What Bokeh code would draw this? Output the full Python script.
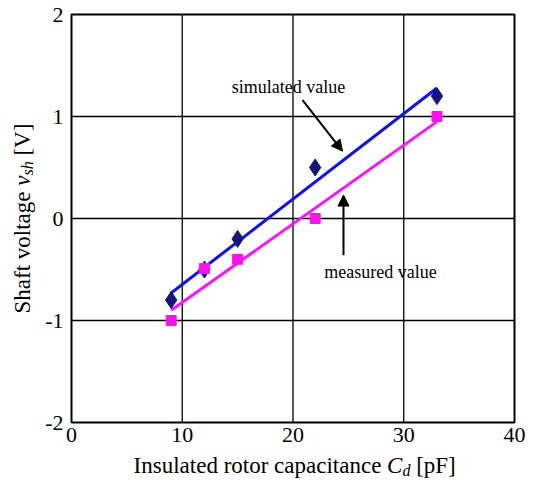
import math
from bokeh.plotting import figure
from bokeh.models import Label, Arrow, NormalHead, FixedTicker, Range1d, PrintfTickFormatter
from bokeh.embed import file_html
from bokeh.resources import INLINE

# ---- data ----
x_ticks = [0, 10, 20, 30, 40]
y_ticks = [-2, -1, 0, 1, 2]
x_lim = (0, 40)
y_lim = (-2, 2)

sim_x = [9, 12, 15, 22, 33]
sim_y = [-0.8, -0.5, -0.2, 0.5, 1.2]

meas_x = [9, 12, 15, 22, 33]
meas_y = [-1.0, -0.49, -0.4, 0.0, 1.0]

fit_x = [9, 33]
sim_fit = [-0.73, 1.28]
meas_fit = [-0.9, 0.95]

FONT = "Liberation Serif"

# frame covers the whole canvas; the chart box is placed inside it
W, H = 527, 481
BOX_L, BOX_R, BOX_T, BOX_B = 71, 514, 14, 422
sx = (BOX_R - BOX_L) / (x_lim[1] - x_lim[0])
sy = (BOX_B - BOX_T) / (y_lim[1] - y_lim[0])
xr = Range1d(x_lim[0] - BOX_L / sx, x_lim[1] + (W - BOX_R) / sx)
yr = Range1d(y_lim[0] - (H - BOX_B) / sy, y_lim[1] + BOX_T / sy)

p = figure(width=W, height=H, output_backend="svg", toolbar_location=None,
           x_range=xr, y_range=yr, min_border=0)
p.background_fill_color = "white"
p.border_fill_color = "white"
p.outline_line_color = None
p.xgrid.visible = False
p.ygrid.visible = False

for ax in (p.xaxis[0], p.yaxis[0]):
    ax.axis_line_color = None
    ax.major_tick_out = 0
    ax.major_tick_in = 0
    ax.minor_tick_out = 0
    ax.minor_tick_in = 0
    ax.major_label_text_font = FONT
    ax.major_label_text_font_size = "22px"
    ax.major_label_text_color = "black"
    ax.formatter = PrintfTickFormatter(format="%d")
p.xaxis[0].ticker = FixedTicker(ticks=x_ticks)
p.yaxis[0].ticker = FixedTicker(ticks=y_ticks)
p.xaxis[0].fixed_location = y_lim[0]
p.yaxis[0].fixed_location = x_lim[0]
p.xaxis[0].major_label_standoff = 5
p.yaxis[0].major_label_standoff = 8

# grid lines inside the box
gx = [t for t in x_ticks if x_lim[0] < t < x_lim[1]]
gy = [t for t in y_ticks if y_lim[0] < t < y_lim[1]]
p.segment(x0=gx, y0=[y_lim[0]] * len(gx), x1=gx, y1=[y_lim[1]] * len(gx),
          line_color="black", line_width=1.3)
p.segment(x0=[x_lim[0]] * len(gy), y0=gy, x1=[x_lim[1]] * len(gy), y1=gy,
          line_color="black", line_width=1.3)
p.quad(left=[x_lim[0]], right=[x_lim[1]], bottom=[y_lim[0]], top=[y_lim[1]],
       fill_color=None, line_color="black", line_width=2)

# fit lines
p.line(fit_x, sim_fit, line_color="#1010ee", line_width=3)
p.line(fit_x, meas_fit, line_color="#ff11ff", line_width=3)

# markers
p.scatter(sim_x, sim_y, marker="diamond", size=17, fill_color="#15157a", line_color="#15157a")
p.scatter(meas_x, meas_y, marker="square", size=10, fill_color="#ff11ee", line_color="#ff11ee")

# annotations
p.add_layout(Label(x=19.6, y=1.29, text="simulated value", text_font=FONT, text_font_size="18px",
                   text_align="center", text_baseline="middle", text_color="black"))
p.add_layout(Label(x=27.9, y=-0.52, text="measured value", text_font=FONT, text_font_size="18px",
                   text_align="center", text_baseline="middle", text_color="black"))
p.add_layout(Arrow(x_start=20.86, y_start=1.16, x_end=24.47, y_end=0.66, line_width=2, line_color="black",
                   end=NormalHead(size=11, fill_color="black", line_color="black")))
p.add_layout(Arrow(x_start=24.56, y_start=-0.36, x_end=24.56, y_end=0.23, line_width=2, line_color="black",
                   end=NormalHead(size=11, fill_color="black", line_color="black")))

# ---- axis titles (composed from pieces anchored at box corner) ----
FS = 23
def lab(text, xo, yo, size=FS, style="normal", align="left", angle=0.0):
    p.add_layout(Label(x=x_lim[0], y=y_lim[0], x_offset=xo, y_offset=yo, text=text, text_font=FONT,
                       text_font_size=f"{size}px", text_font_style=style, text_align=align,
                       text_baseline="middle", text_color="black", angle=angle))

X = 62 + 253.6
XT = -43
lab("Insulated rotor capacitance", X - 5.75, XT, align="right")
lab("C", X, XT, style="italic")
lab("d", X + 15.3, XT - 5, size=16, style="italic")
lab("[pF]", X + 15.3 + 8 + 5.75, XT)

A = math.pi / 2
Y0 = 109
lab("Shaft voltage", -49, Y0, angle=A)
Yv = Y0 + 122 + 5.75
lab("v", -49, Yv, style="italic", angle=A)
lab("sh", -44, Yv + 10.2, size=16, style="italic", angle=A)
lab("[V]", -49, Yv + 10.2 + 14.2 + 5.75, angle=A)

open("out.html", "w").write(file_html(p, INLINE))
